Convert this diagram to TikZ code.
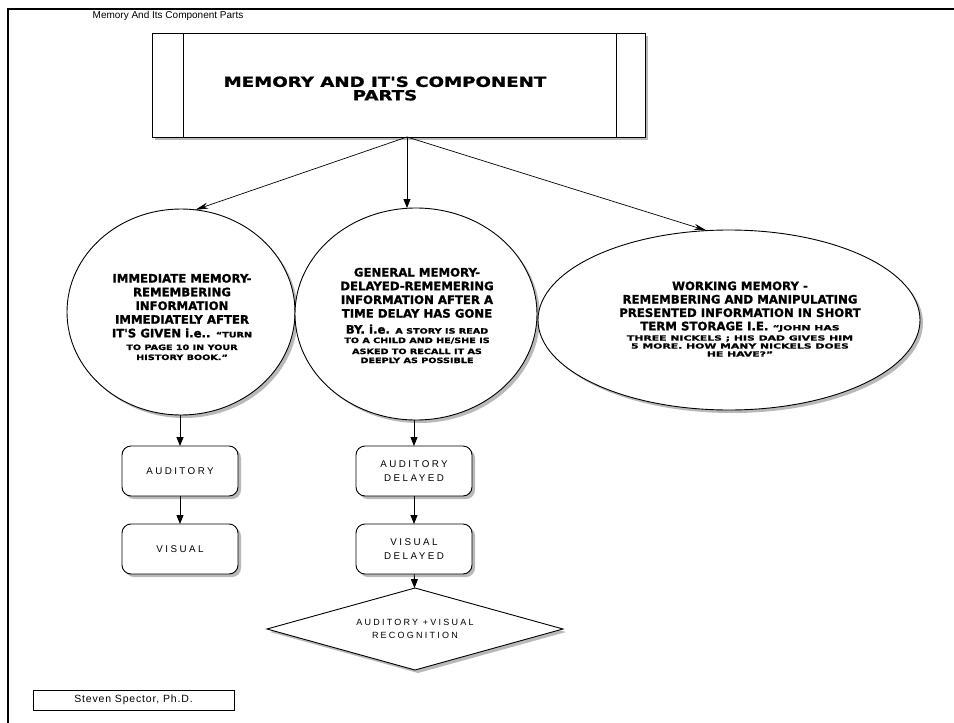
\documentclass[tikz,border=0pt]{standalone}
\usepackage{fontspec}
\usepackage{graphicx}
\setmainfont{Liberation Sans}
\newfontfamily\hvb[FakeBold=1.2]{DejaVu Sans}
\newfontfamily\spaced[LetterSpace=25]{Liberation Sans}
\newfontfamily\spacedb[LetterSpace=8]{Liberation Sans}
\usetikzlibrary{shapes.geometric,shadows,arrows.meta}
\tikzset{
  dropsh/.style={drop shadow={shadow xshift=3pt,shadow yshift=-3pt,fill=gray!55,opacity=1}},
  memo/.style={ellipse,draw,line width=0.9pt,fill=white,inner sep=0pt,outer sep=0pt,dropsh},
  stepbox/.style={rectangle,rounded corners=9pt,draw,line width=0.9pt,fill=white,
    minimum width=116pt,minimum height=50pt,inner sep=0pt,outer sep=0pt,dropsh,
    align=center,font=\spaced\fontsize{9.8}{14}\selectfont},
  headtri/.style={-{Triangle[length=9pt,width=7pt]},line width=0.8pt},
  headlong/.style={-{Stealth[length=13pt,width=6pt]},line width=0.7pt},
  memotxt/.style={align=center,inner sep=0pt}
}
\newcommand{\smallA}[1]{{\hvb\bfseries\fontsize{7.4}{9}\selectfont\scalebox{1.3}[1]{#1}}}
\newcommand{\smallB}[1]{{\hvb\bfseries\fontsize{7}{8}\selectfont\scalebox{1.55}[1]{#1}}}
\newcommand{\wideT}[1]{\scalebox{1.3}[1]{#1}}
\begin{document}
\begin{tikzpicture}[x=1pt,y=-1pt]
\useasboundingbox (0,0) rectangle (954,723);
\fill[white] (0,0) rectangle (954,723);
% frame
\coordinate (ftl) at (8,9);
\coordinate (ftr) at (954,9);
\coordinate (fbl) at (8,723);
\draw[line width=1.3pt] (ftr) -- (ftl) -- (fbl);
\node[font=\fontsize{10}{11}\selectfont, inner sep=0pt] (cap) at (168,16) {Memory And Its Component Parts};

% title box
\node[draw, line width=0.8pt, fill=white, dropsh, minimum width=493pt, minimum height=104pt,
      inner sep=0pt, outer sep=0pt] (tb) at (398.5,85) {};
\draw[line width=0.8pt] ([xshift=31pt]tb.north west) -- ([xshift=31pt]tb.south west);
\draw[line width=0.8pt] ([xshift=-29pt]tb.north east) -- ([xshift=-29pt]tb.south east);
\node[align=center, inner sep=0pt, font=\hvb\bfseries\fontsize{14}{13.5}\selectfont] (tt) at (385,88.5)
  {\wideT{MEMORY AND IT'S COMPONENT}\\\wideT{PARTS}};
\coordinate (ts) at (407,137);

% circles
\node[memo, minimum width=228pt, minimum height=206pt] (lc) at (181,312) {};
\node[memo, minimum width=242pt, minimum height=212pt] (mc) at (416,314) {};
\node[memo, minimum width=382pt, minimum height=180pt] (rc) at (729,320) {};

\node[memotxt, font=\hvb\bfseries\fontsize{11.7}{13.7}\selectfont] (lct) at (182,317)
  {IMMEDIATE MEMORY-\\REMEMBERING\\INFORMATION\\IMMEDIATELY AFTER\\
   IT'S GIVEN i.e.. \smallA{“TURN}\\[-1.1pt]\smallA{TO PAGE 10 IN YOUR}\\[-3.7pt]\smallA{HISTORY BOOK.”}};
\node[memotxt, font=\hvb\bfseries\fontsize{11.7}{13.7}\selectfont] (mct) at (417,315.5)
  {GENERAL MEMORY-\\DELAYED-REMEMERING\\INFORMATION AFTER A\\TIME DELAY HAS GONE\\[2.3pt]
   BY. i.e. \smallA{A STORY IS READ}\\[-4.3pt]\smallA{TO A CHILD AND HE/SHE IS}\\[-2.7pt]
   \smallA{ASKED TO RECALL IT AS}\\[-4.7pt]\smallA{DEEPLY AS POSSIBLE}};
\node[memotxt, font=\hvb\bfseries\fontsize{11.7}{13.4}\selectfont] (rct) at (740,319)
  {WORKING MEMORY -\\REMEMBERING AND MANIPULATING\\PRESENTED INFORMATION IN SHORT\\
   TERM STORAGE I.E. \smallB{“JOHN HAS}\\[-3.2pt]\smallB{THREE NICKELS ; HIS DAD GIVES HIM}\\[-5.4pt]
   \smallB{5 MORE. HOW MANY NICKELS DOES}\\[-5.4pt]\smallB{HE HAVE?”}};

% top arrows
\draw[headlong] (ts) -- (lc.82);
\draw[headtri] (ts) -- (ts |- mc.north);
\draw[headlong] (ts) -- (rc.104);

% boxes
\node[stepbox] (ab) at (180,471) {AUDITORY};
\node[stepbox] (vb) at (180,549) {VISUAL};
\node[stepbox] (adb) at (414,471) {AUDITORY\\DELAYED};
\node[stepbox] (vdb) at (414,549) {VISUAL\\DELAYED};
\node[diamond, draw, line width=0.9pt, fill=white, dropsh, aspect=4, minimum width=296pt,
      minimum height=82pt, inner sep=0pt, outer sep=0pt, align=center,
      font=\spaced\fontsize{9}{13}\selectfont] (rd) at (415,629) {AUDITORY +VISUAL\\RECOGNITION};

\draw[headtri] (ab.north |- lc.south) -- (ab.north);
\draw[headtri] (ab) -- (vb);
\draw[headtri] (adb.north |- mc.south) -- (adb.north);
\draw[headtri] (adb) -- (vdb);
\draw[headtri] (vdb) -- (rd);

% author
\node[draw, line width=0.9pt, minimum width=201pt, minimum height=20pt, inner sep=0pt,
      font=\spacedb\fontsize{10.5}{12}\selectfont] (au) at (133.5,700) {Steven Spector, Ph.D.};
\end{tikzpicture}
\end{document}
